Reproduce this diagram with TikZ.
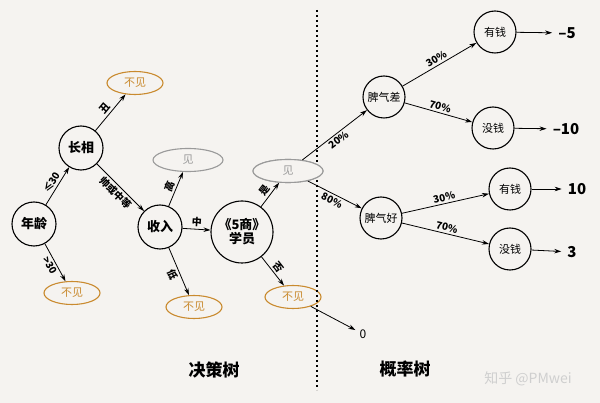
\documentclass[tikz,border=0pt]{standalone}
\usepackage{fontspec}
\setmainfont{Noto Sans CJK SC}
\usetikzlibrary{shapes.geometric,arrows.meta,positioning}
\definecolor{paper}{HTML}{F5F3F0}
\definecolor{amber}{HTML}{C98A2E}
\definecolor{mist}{HTML}{9A9A9A}
\definecolor{mark}{HTML}{CFCFCF}
\tikzset{
  % decision / chance node: a plain circle
  dec/.style={circle, draw, line width=1.1pt, fill=paper,
    minimum size=44pt, inner sep=0pt, align=center,
    font=\bfseries\fontsize{13}{14}\selectfont},
  chance/.style={dec, minimum size=42pt,
    font=\fontsize{11}{12}\selectfont},
  % outcome "not seen" (orange) and "seen" (grey)
  miss/.style={ellipse, draw=amber, text=amber, line width=1.1pt,
    minimum width=56pt, minimum height=23pt, inner sep=0pt,
    font=\fontsize{11}{12}\selectfont},
  hit/.style={ellipse, draw=mist, text=mist, line width=1.1pt,
    minimum width=70pt, minimum height=23pt, inner sep=0pt,
    font=\fontsize{11}{12}\selectfont},
  arr/.style={-{Stealth[length=7pt,width=4.5pt]}, line width=0.8pt},
  lbl/.style={sloped, font=\bfseries\fontsize{10}{11}\selectfont, inner sep=2pt},
  val/.style={font=\bfseries\fontsize{15}{16}\selectfont, inner sep=6pt},
  title/.style={font=\bfseries\fontsize{17}{18}\selectfont},
}
\newcommand{\conn}[4]{%
  \draw[arr] (#1) -- node[lbl,#4]{#3} (#2);}

\begin{document}
\begin{tikzpicture}[x=1pt,y=1pt]
\fill[paper] (0,0) rectangle (600,-403);
\useasboundingbox (0,0) rectangle (600,-403);

% ----- decision tree (left) -----
\node[dec] (age) at (34,-224) {年龄};
\node[dec] (look) at (81,-148) {长相};
\node[miss] (m1) at (135,-83) {不见};
\node[miss] (m2) at (72,-293) {不见};
\node[dec] (income) at (160,-227) {收入};
\node[hit] (h1) at (188,-160) {见};
\node[miss] (m3) at (194,-307) {不见};
\node[dec, minimum size=62pt] (student) at (242,-232) {《5商》\\学员};
\node[hit] (h2) at (288,-171) {见};
\node[miss] (m4) at (293,-297) {不见};
\node[font=\fontsize{12}{12}\selectfont, inner sep=4pt] (zero) at (363,-334) {0};

\conn{age}{look}{≤30}{above}
\conn{age}{m2}{>30}{below}
\conn{look}{m1}{丑}{above}
\conn{look}{income}{帅或中等}{below}
\conn{income}{h1}{高}{above}
\conn{income}{student}{中}{above}
\conn{income}{m3}{低}{below}
\conn{student}{h2}{是}{above}
\conn{student}{m4}{否}{above}
\draw[arr] (m4) -- (zero);

% ----- divider -----
\coordinate (top) at (317,-10);
\coordinate (bot) at (317,-390);
\draw[line width=1.2pt, dash pattern=on 2.5pt off 2.5pt] (top) -- (bot);
% redraw the seen-ellipse over the divider
\node[hit, fill=paper] at (h2) {见};

% ----- probability tree (right) -----
\node[chance] (bad) at (384,-97) {脾气差};
\node[chance] (good) at (381,-218) {脾气好};
\node[chance] (rich1) at (495,-32) {有钱};
\node[chance] (poor1) at (493,-128) {没钱};
\node[chance] (rich2) at (510,-189) {有钱};
\node[chance] (poor2) at (510,-249) {没钱};

\node[val] (v1) at (567,-33) {–5};
\node[val] (v2) at (566,-129) {–10};
\node[val] (v3) at (577,-189) {10};
\node[val] (v4) at (572,-252) {3};

\conn{h2}{bad}{20\%}{below}
\conn{h2}{good}{80\%}{below}
\conn{bad}{rich1}{30\%}{above}
\conn{bad}{poor1}{70\%}{above}
\conn{good}{rich2}{30\%}{above}
\conn{good}{poor2}{70\%}{above}
\draw[arr] (rich1) -- (v1);
\draw[arr] (poor1) -- (v2);
\draw[arr] (rich2) -- (v3);
\draw[arr] (poor2) -- (v4);

% ----- captions -----
\node[title] (t1) at (214,-370) {决策树};
\node[title] (t2) at (405,-369) {概率树};
\node[text=mark, font=\fontsize{14}{14}\selectfont] (wm) at (528,-379) {知乎 @PMwei};

\end{tikzpicture}
\end{document}
